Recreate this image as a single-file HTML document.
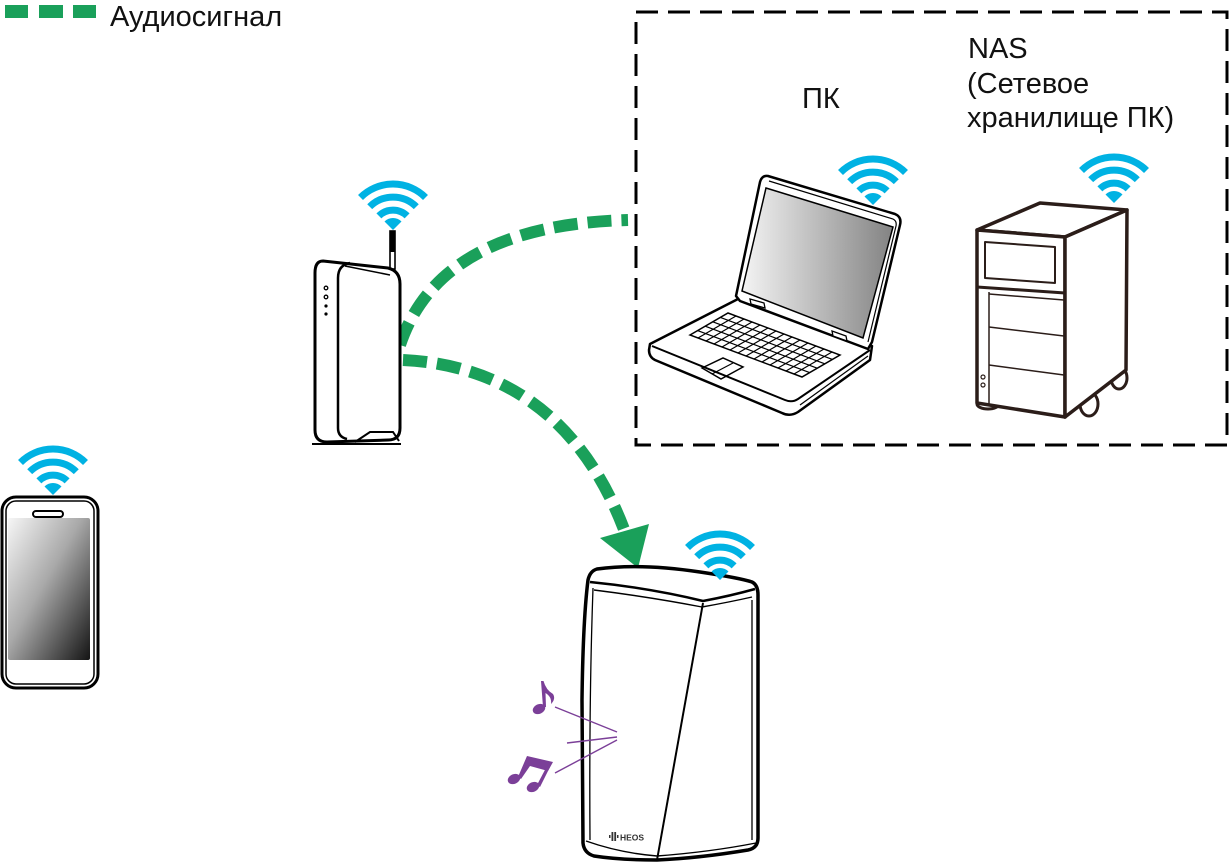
<!DOCTYPE html>
<html>
<head>
<meta charset="utf-8">
<style>
html,body{margin:0;padding:0;background:#fff;}
body{width:1231px;height:865px;overflow:hidden;}
svg{display:block;}
text{font-family:"Liberation Sans","DejaVu Sans",sans-serif;}
</style>
</head>
<body>
<svg width="1231" height="865" viewBox="0 0 1231 865" xmlns="http://www.w3.org/2000/svg">
<defs>
  <g id="wifi">
    <path d="M0,0 L-8.5,-8.5 A12,12 0 0 1 8.5,-8.5 Z" fill="#00b2e3"/>
    <path d="M-14.1,-14.1 A20,20 0 0 1 14.1,-14.1" fill="none" stroke="#00b2e3" stroke-width="7"/>
    <path d="M-23.3,-23.3 A33,33 0 0 1 23.3,-23.3" fill="none" stroke="#00b2e3" stroke-width="7"/>
    <path d="M-32.5,-32.5 A46,46 0 0 1 32.5,-32.5" fill="none" stroke="#00b2e3" stroke-width="7"/>
  </g>
  <linearGradient id="phoneScr" x1="0" y1="0" x2="1" y2="1">
    <stop offset="0" stop-color="#f6f6f6"/>
    <stop offset="0.45" stop-color="#a9a9a9"/>
    <stop offset="1" stop-color="#141414"/>
  </linearGradient>
  <linearGradient id="lapScr" x1="0" y1="0" x2="1" y2="0">
    <stop offset="0" stop-color="#f4f4f4"/>
    <stop offset="1" stop-color="#838383"/>
  </linearGradient>
</defs>

<!-- legend -->
<rect x="5" y="5" width="23" height="13" fill="#1aa05a"/>
<rect x="39" y="5" width="24" height="13" fill="#1aa05a"/>
<rect x="73" y="5" width="23" height="13" fill="#1aa05a"/>
<text x="110" y="26" font-size="29" fill="#111">Аудиосигнал</text>

<!-- dashed box -->
<rect x="636" y="12" width="591" height="433" fill="none" stroke="#000" stroke-width="3" stroke-dasharray="22 10"/>

<text x="802" y="108" font-size="29" fill="#111">ПК</text>
<text x="968" y="58" font-size="29" fill="#111">NAS</text>
<text x="967" y="93" font-size="29" fill="#111">(Сетевое</text>
<text x="967" y="127" font-size="29" fill="#111">хранилище ПК)</text>

<!-- green arcs -->
<path d="M400,345 Q440,225 628,220" fill="none" stroke="#1aa05a" stroke-width="12" stroke-dasharray="24 10"/>
<path d="M403,360 C510,365 585,425 625,532" fill="none" stroke="#1aa05a" stroke-width="12" stroke-dasharray="24 10"/>
<polygon points="600,538 649,524 638,568" fill="#1aa05a"/>

<!-- router -->
<rect x="390" y="231" width="5" height="38" fill="#fff" stroke="#000" stroke-width="1.6"/>
<line x1="392.5" y1="231" x2="392.5" y2="252" stroke="#000" stroke-width="4"/>
<path d="M323,261 L388,268 Q400,271 400,284 L400,428 Q400,440 388,440 L327,442 Q315,442 315,430 L315,273 Q315,261 323,261 Z" fill="#fff" stroke="#000" stroke-width="3"/>
<path d="M350,263 Q338,265 338,278 L338,428 Q338,437 347,439" fill="none" stroke="#000" stroke-width="2.5"/>
<path d="M345,266 L390,275" fill="none" stroke="#000" stroke-width="1.5"/>
<circle cx="326" cy="288" r="1.8" fill="#fff" stroke="#000" stroke-width="1.3"/>
<circle cx="326" cy="297" r="1.8" fill="#fff" stroke="#000" stroke-width="1.3"/>
<circle cx="326" cy="306" r="1.6" fill="#000"/>
<circle cx="326" cy="314" r="1.6" fill="#000"/>
<path d="M355,442 L370,432 L393,432 L399,441" fill="none" stroke="#000" stroke-width="2"/>
<line x1="312" y1="444" x2="401" y2="444" stroke="#000" stroke-width="2"/>
<use href="#wifi" x="393" y="230"/>

<!-- laptop -->
<path d="M650,344 L738,299 L872,346 L870,360 L798,412 Q790,417 782,413 L655,360 Q649,357 649,350 Z" fill="#fff" stroke="#000" stroke-width="2.5" stroke-linejoin="round"/>
<path d="M652,346 L785,400 Q792,403 798,399 L870,350" fill="none" stroke="#000" stroke-width="2"/>
<path d="M800,405 L868,356" fill="none" stroke="#000" stroke-width="1.2"/>
<path d="M768,176 L895,214 Q902,217 900,225 L872,342 L868,349 L740,301 L736,296 L760,182 Q762,175 768,176 Z" fill="#fff" stroke="#000" stroke-width="2.5" stroke-linejoin="round"/>
<path d="M769,181 L893,219 Q897,221 896,226 L868,342" fill="none" stroke="#000" stroke-width="1.2"/>
<polygon points="766,188 893,227 863,338 742,291" fill="url(#lapScr)" stroke="#000" stroke-width="1.5"/>
<polygon points="750,299 764,303 765,308 751,304" fill="#fff" stroke="#000" stroke-width="1.3"/>
<polygon points="832,331 846,336 847,341 833,336" fill="#fff" stroke="#000" stroke-width="1.3"/>
<g fill="none" stroke="#000" stroke-width="1.2">
  <polygon points="690,335 728,313 840,355 802,377" fill="#fff" stroke-width="1.5"/>
  <path d="M697.6,330.6 L809.6,372.6 M705.2,326.2 L817.2,368.2 M712.8,321.8 L824.8,363.8 M720.4,317.4 L832.4,359.4"/>
  <path d="M698,338 L736,316 M706,341 L744,319 M714,344 L752,322 M722,347 L760,325 M730,350 L768,328 M738,353 L776,331 M746,356 L784,334 M754,359 L792,337 M762,362 L800,340 M770,365 L808,343 M778,368 L816,346 M786,371 L824,349 M794,374 L832,352"/>
  <polygon points="702,368 723,358 743,367 721,379" stroke-width="1.5"/>
  <path d="M712,374 L733,363"/>
</g>
<use href="#wifi" x="873" y="205"/>

<!-- NAS -->
<g stroke="#2b1d19" stroke-linejoin="round" fill="#fff">
  <ellipse cx="988" cy="404" rx="11" ry="5" stroke-width="3"/>
  <ellipse cx="1089" cy="404" rx="9" ry="12" stroke-width="3"/>
  <ellipse cx="1119" cy="378" rx="8" ry="11" stroke-width="3"/>
  <polygon points="977,230 1040,203 1127,210 1065,237" stroke-width="3.5"/>
  <polygon points="977,230 1065,237 1065,417 977,403" stroke-width="3.5"/>
  <polygon points="1065,237 1127,210 1126,370 1065,417" stroke-width="3.5"/>
  <polygon points="985,242 1055,247 1055,283 985,278" stroke-width="2"/>
  <line x1="977" y1="287" x2="1065" y2="293" stroke-width="3"/>
  <line x1="989" y1="292" x2="989" y2="405" stroke-width="1.5"/>
  <line x1="989" y1="294" x2="1064" y2="300" stroke-width="1.5"/>
  <line x1="989" y1="327" x2="1064" y2="336" stroke-width="1.5"/>
  <line x1="989" y1="365" x2="1064" y2="375" stroke-width="1.5"/>
  <circle cx="983" cy="377" r="2" stroke-width="1.2"/>
  <circle cx="983" cy="385" r="2" stroke-width="1.2"/>
</g>
<use href="#wifi" x="1114" y="203"/>

<!-- phone -->
<rect x="2" y="497" width="96" height="191" rx="14" fill="#fff" stroke="#000" stroke-width="3"/>
<rect x="6" y="501" width="88" height="183" rx="10" fill="none" stroke="#000" stroke-width="1.5"/>
<rect x="8" y="518" width="82" height="142" rx="2" fill="url(#phoneScr)"/>
<rect x="33" y="511" width="30" height="6" rx="3" fill="#fff" stroke="#000" stroke-width="2"/>
<use href="#wifi" x="53" y="495"/>

<!-- speaker -->
<path d="M597,569 Q640,563 700,572 Q740,578 752,582 Q758,585 758,595 L758,838 Q758,848 748,850 Q700,858 657,860 Q620,860 594,856 Q584,853 583,843 L582,700 Q583,620 588,580 Q590,571 597,569 Z" fill="#fff" stroke="#000" stroke-width="3.5"/>
<path d="M593,588 Q589,700 590,840" fill="none" stroke="#000" stroke-width="1.3"/>
<path d="M752,600 L752,840" fill="none" stroke="#000" stroke-width="1.3"/>
<path d="M590,582 Q650,588 703,601 Q730,596 755,589" fill="none" stroke="#000" stroke-width="2.5"/>
<path d="M594,590 Q650,597 702,607 Q730,602 752,597" fill="none" stroke="#000" stroke-width="1.4"/>
<path d="M703,603 L657,860" fill="none" stroke="#000" stroke-width="2"/>
<path d="M586,841 Q620,853 657,856 Q710,852 756,843" fill="none" stroke="#000" stroke-width="1.4"/>
<g fill="#333">
  <rect x="609" y="835" width="1.5" height="3"/>
  <rect x="611.5" y="832" width="1.8" height="9"/>
  <rect x="614.3" y="832" width="1.8" height="9"/>
  <rect x="617" y="835" width="1.5" height="3"/>
</g>
<text x="620" y="840.5" font-size="8.5" font-weight="bold" fill="#333">HEOS</text>
<use href="#wifi" x="720" y="580"/>

<!-- music notes -->
<g fill="#7b3f98">
  <ellipse cx="539" cy="709" rx="6.5" ry="4.8" transform="rotate(-25 539 709)"/>
  <path d="M543,707 L541,681 L543.5,681 Q546,690 553,694 Q556,699 551,704 Q552,697 545.5,693 L546,707 Z"/>
  <ellipse cx="514" cy="779" rx="6.5" ry="4.8" transform="rotate(-25 514 779)"/>
  <ellipse cx="533" cy="787" rx="6.5" ry="4.8" transform="rotate(-25 533 787)"/>
  <path d="M518,777 L527,756 L553,762 L548,771 L530,766 L521,779 Z"/>
  <path d="M537,785 L547,766 L550,767 L540,787 Z"/>
</g>
<g stroke="#7b3f98" stroke-width="1.4" fill="none">
  <line x1="555" y1="707" x2="617" y2="732"/>
  <line x1="567" y1="743" x2="617" y2="737"/>
  <line x1="555" y1="773" x2="617" y2="740"/>
</g>
</svg>
</body>
</html>
